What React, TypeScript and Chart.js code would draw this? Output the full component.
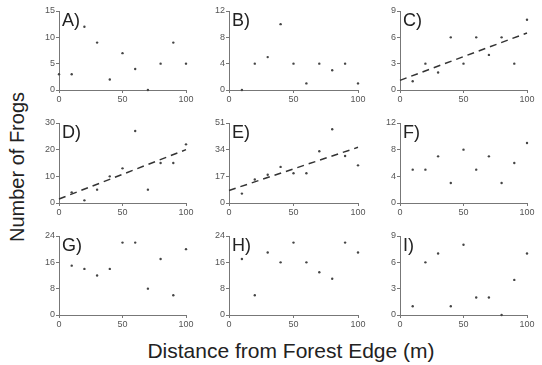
import React, { useEffect, useRef } from "react";
import { Chart, registerables } from "chart.js";
Chart.register(...registerables);

const panelLabels = ["A)", "B)", "C)", "D)", "E)", "F)", "G)", "H)", "I)"];
const distancesA = [0, 10, 20, 30, 40, 50, 60, 70, 80, 90, 100];
const distances = [10, 20, 30, 40, 50, 60, 70, 80, 90, 100];
const frogsA = [3, 3, 12, 9, 2, 7, 4, 0, 5, 9, 5];
const frogsB = [0, 4, 5, 10, 4, 1, 4, 3, 4, 1];
const frogsC = [1, 3, 2, 6, 3, 6, 4, 6, 3, 8];
const frogsD = [4, 1, 5, 10, 13, 27, 5, 15, 15, 22];
const frogsE = [6, 15, 18, 23, 19, 19, 33, 47, 30, 24];
const frogsF = [5, 5, 7, 3, 8, 5, 7, 3, 6, 9];
const frogsG = [15, 14, 12, 14, 22, 22, 8, 17, 6, 20];
const frogsH = [17, 6, 19, 16, 22, 16, 13, 11, 22, 19];
const frogsI = [1, 6, 7, 1, 8, 2, 2, 0, 4, 7];
const yMax = [15, 12, 9, 30, 51, 12, 24, 24, 9];
const yStep = [5, 4, 3, 10, 17, 4, 8, 8, 3];
const xTickStep = 50;
// trend lines: [value at 0, value at 100]
const trendC = [1.1, 6.5];
const trendD = [1.5, 20];
const trendE = [8, 35.5];

const panelX = [distancesA, distances, distances, distances, distances, distances, distances, distances, distances];
const panelY = [frogsA, frogsB, frogsC, frogsD, frogsE, frogsF, frogsG, frogsH, frogsI];
const panelTrend: (number[] | null)[] = [null, null, trendC, trendD, trendE, null, null, null, null];

const colLeft = [59, 229, 400];
const colRight = [186, 358, 527];
const rowTop = [11, 123, 236];
const rowBottom = [90, 203, 315];
const Y_AXIS_W = 28;
const X_AXIS_H = 18;
const PAD_TOP = 7;
const PAD_RIGHT = 10;

const FONT = "'Liberation Sans', Arial, sans-serif";

function Panel({ idx }: { idx: number }) {
  const ref = useRef<HTMLCanvasElement>(null);
  const col = idx % 3;
  const row = Math.floor(idx / 3);
  const left = colLeft[col] - Y_AXIS_W;
  const top = rowTop[row] - PAD_TOP;
  const width = colRight[col] - colLeft[col] + Y_AXIS_W + PAD_RIGHT;
  const height = rowBottom[row] - rowTop[row] + PAD_TOP + X_AXIS_H;

  useEffect(() => {
    if (!ref.current) return;
    const pts = panelX[idx].map((x, i) => ({ x, y: panelY[idx][i] }));
    const datasets: any[] = [
      {
        type: "scatter",
        data: pts,
        pointRadius: 1.2,
        pointBackgroundColor: "#444",
        pointBorderWidth: 0,
        clip: false,
      },
    ];
    const tr = panelTrend[idx];
    if (tr) {
      datasets.push({
        type: "line",
        data: [
          { x: 0, y: tr[0] },
          { x: 100, y: tr[1] },
        ],
        borderColor: "#333",
        borderWidth: 1.5,
        borderDash: [7, 5],
        pointRadius: 0,
        fill: false,
        clip: false,
      });
    }
    const tickFont = { size: 9, family: FONT };
    const chart = new Chart(ref.current, {
      type: "scatter",
      data: { datasets },
      options: {
        responsive: false,
        animation: false,
        layout: { padding: { left: 0, top: PAD_TOP, right: PAD_RIGHT, bottom: 0 } },
        plugins: { legend: { display: false }, tooltip: { enabled: false } },
        scales: {
          x: {
            type: "linear",
            min: 0,
            max: 100,
            ticks: { stepSize: xTickStep, font: tickFont, color: "#555", padding: 1, maxRotation: 0 },
            grid: { drawOnChartArea: false, tickLength: 3, color: "#777" },
            border: { color: "#777", width: 1 },
            afterFit: (s: any) => {
              s.height = X_AXIS_H;
            },
          },
          y: {
            type: "linear",
            min: 0,
            max: yMax[idx],
            ticks: { stepSize: yStep[idx], font: tickFont, color: "#555", padding: 1 },
            grid: { drawOnChartArea: false, tickLength: 3, color: "#777" },
            border: { color: "#777", width: 1 },
            afterFit: (s: any) => {
              s.width = Y_AXIS_W;
            },
          },
        },
      } as any,
    });
    return () => chart.destroy();
  }, [idx]);

  return (
    <>
      <canvas
        ref={ref}
        width={width}
        height={height}
        style={{ position: "absolute", left, top, width, height }}
      />
      <div
        style={{
          position: "absolute",
          left: colLeft[col] + 3,
          top: rowTop[row] - 1,
          fontFamily: FONT,
          fontSize: 18,
          lineHeight: "20px",
          color: "#222",
        }}
      >
        {panelLabels[idx]}
      </div>
    </>
  );
}

export default function App() {
  return (
    <div
      style={{
        position: "absolute",
        left: 0,
        top: 0,
        width: 542,
        height: 365,
        background: "#fff",
        overflow: "hidden",
      }}
    >
      {panelLabels.map((_, i) => (
        <Panel key={i} idx={i} />
      ))}
      <div
        style={{
          position: "absolute",
          left: 17 - 100,
          top: 167 - 12,
          width: 200,
          height: 24,
          lineHeight: "24px",
          textAlign: "center",
          transform: "rotate(-90deg)",
          fontFamily: FONT,
          fontSize: 20,
          color: "#222",
        }}
      >
        Number of Frogs
      </div>
      <div
        style={{
          position: "absolute",
          left: 291 - 200,
          top: 339,
          width: 400,
          lineHeight: "24px",
          textAlign: "center",
          fontFamily: FONT,
          fontSize: 21,
          color: "#222",
        }}
      >
        Distance from Forest Edge (m)
      </div>
    </div>
  );
}
